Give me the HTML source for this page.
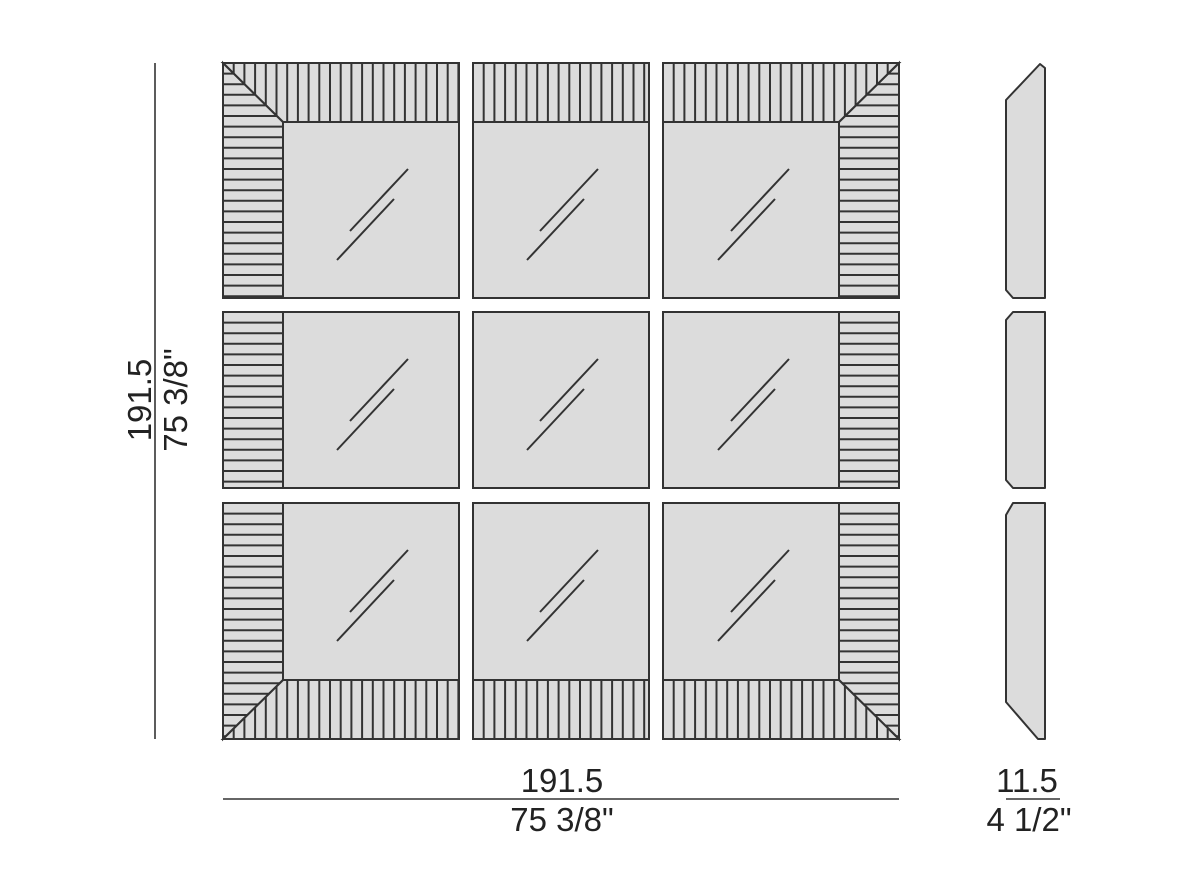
<!DOCTYPE html>
<html><head><meta charset="utf-8"><style>html,body{margin:0;padding:0;background:#fff}svg{display:block}</style></head>
<body>
<svg width="1200" height="880" viewBox="0 0 1200 880" xmlns="http://www.w3.org/2000/svg">
<defs>
<path id="vl" d="M10.7,0v240m10.7,-240v240m10.7,-240v240m10.7,-240v240m10.7,-240v240m10.7,-240v240m10.7,-240v240m10.7,-240v240m10.7,-240v240m10.7,-240v240m10.7,-240v240m10.7,-240v240m10.7,-240v240m10.7,-240v240m10.7,-240v240m10.7,-240v240m10.7,-240v240m10.7,-240v240m10.7,-240v240m10.7,-240v240m10.7,-240v240m10.7,-240v240" fill="none" stroke="#333" stroke-width="2"/>
<path id="hl" d="M0,10.6h240m-240,10.6h240m-240,10.6h240m-240,10.6h240m-240,10.6h240m-240,10.6h240m-240,10.6h240m-240,10.6h240m-240,10.6h240m-240,10.6h240m-240,10.6h240m-240,10.6h240m-240,10.6h240m-240,10.6h240m-240,10.6h240m-240,10.6h240m-240,10.6h240m-240,10.6h240m-240,10.6h240m-240,10.6h240m-240,10.6h240m-240,10.6h240" fill="none" stroke="#333" stroke-width="2"/>
<clipPath id="c1"><polygon points="223,63 459,63 459,122 283,122"/></clipPath>
<clipPath id="c2"><polygon points="223,63 283,122 283,298 223,298"/></clipPath>
<clipPath id="c3"><rect x="473" y="63" width="176" height="59"/></clipPath>
<clipPath id="c4"><polygon points="663,63 899,63 839,122 663,122"/></clipPath>
<clipPath id="c5"><polygon points="899,63 899,298 839,298 839,122"/></clipPath>
<clipPath id="c6"><rect x="223" y="312" width="60" height="176"/></clipPath>
<clipPath id="c7"><rect x="839" y="312" width="60" height="176"/></clipPath>
<clipPath id="c8"><polygon points="223,503 283,503 283,680 223,739"/></clipPath>
<clipPath id="c9"><polygon points="223,739 283,680 459,680 459,739"/></clipPath>
<clipPath id="c10"><rect x="473" y="680" width="176" height="59"/></clipPath>
<clipPath id="c11"><polygon points="839,503 899,503 899,739 839,680"/></clipPath>
<clipPath id="c12"><polygon points="663,680 839,680 899,739 663,739"/></clipPath>
<g id="glass"><line x1="-21" y1="21" x2="37" y2="-41"/><line x1="-34" y1="50" x2="23" y2="-11"/></g>
</defs>
<g stroke="#333" stroke-width="2" fill="#dcdcdc">
<rect x="223" y="63" width="236" height="235"/><rect x="473" y="63" width="176" height="235"/><rect x="663" y="63" width="236" height="235"/>
<rect x="223" y="312" width="236" height="176"/><rect x="473" y="312" width="176" height="176"/><rect x="663" y="312" width="236" height="176"/>
<rect x="223" y="503" width="236" height="236"/><rect x="473" y="503" width="176" height="236"/><rect x="663" y="503" width="236" height="236"/>
</g>
<g clip-path="url(#c1)"><use href="#vl" x="223" y="63"/></g>
<g clip-path="url(#c2)"><use href="#hl" x="223" y="63"/></g>
<g clip-path="url(#c3)"><use href="#vl" x="473" y="63"/></g>
<g clip-path="url(#c4)"><use href="#vl" x="663" y="63"/></g>
<g clip-path="url(#c5)"><use href="#hl" x="839" y="63"/></g>
<g clip-path="url(#c6)"><use href="#hl" x="223" y="312"/></g>
<g clip-path="url(#c7)"><use href="#hl" x="839" y="312"/></g>
<g clip-path="url(#c8)"><use href="#hl" x="223" y="503"/></g>
<g clip-path="url(#c9)"><use href="#vl" x="223" y="680"/></g>
<g clip-path="url(#c10)"><use href="#vl" x="473" y="680"/></g>
<g clip-path="url(#c11)"><use href="#hl" x="839" y="503"/></g>
<g clip-path="url(#c12)"><use href="#vl" x="663" y="680"/></g>
<g stroke="#333" stroke-width="2" fill="none">
<polygon points="223,63 459,63 459,122 283,122"/><polygon points="223,63 283,122 283,298 223,298"/>
<rect x="473" y="63" width="176" height="59"/>
<polygon points="663,63 899,63 839,122 663,122"/><polygon points="899,63 899,298 839,298 839,122"/>
<rect x="223" y="312" width="60" height="176"/><rect x="839" y="312" width="60" height="176"/>
<polygon points="223,503 283,503 283,680 223,739"/><polygon points="223,739 283,680 459,680 459,739"/>
<rect x="473" y="680" width="176" height="59"/>
<polygon points="839,503 899,503 899,739 839,680"/><polygon points="663,680 839,680 899,739 663,739"/>
<rect x="223" y="63" width="236" height="235"/><rect x="473" y="63" width="176" height="235"/><rect x="663" y="63" width="236" height="235"/>
<rect x="223" y="312" width="236" height="176"/><rect x="473" y="312" width="176" height="176"/><rect x="663" y="312" width="236" height="176"/>
<rect x="223" y="503" width="236" height="236"/><rect x="473" y="503" width="176" height="236"/><rect x="663" y="503" width="236" height="236"/>
<use href="#glass" x="371" y="210"/><use href="#glass" x="561" y="210"/><use href="#glass" x="752" y="210"/>
<use href="#glass" x="371" y="400"/><use href="#glass" x="561" y="400"/><use href="#glass" x="752" y="400"/>
<use href="#glass" x="371" y="591"/><use href="#glass" x="561" y="591"/><use href="#glass" x="752" y="591"/>
</g>
<g stroke="#333" stroke-width="2" fill="#dcdcdc" stroke-linejoin="round">
<polygon points="1006,100 1040,64 1045,68 1045,298 1013,298 1006,290"/>
<polygon points="1006,320 1013,312 1045,312 1045,488 1013,488 1006,480"/>
<polygon points="1006,515 1013,503 1045,503 1045,739 1038,739 1006,702"/>
</g>
<g stroke="#333" stroke-width="1.6">
<line x1="155" y1="63" x2="155" y2="739"/>
<line x1="223" y1="799" x2="899" y2="799"/>
<line x1="1006" y1="799" x2="1060" y2="799"/>
</g>
<g font-family="Liberation Sans, sans-serif" font-size="33" fill="#222" text-anchor="middle">
<text x="562" y="792">191.5</text>
<text x="562" y="831">75 3/8"</text>
<text x="1027" y="792">11.5</text>
<text x="1029" y="831">4 1/2"</text>
<text transform="translate(151,400) rotate(-90)">191.5</text>
<text transform="translate(187,400) rotate(-90)">75 3/8"</text>
</g>
</svg>
</body></html>
